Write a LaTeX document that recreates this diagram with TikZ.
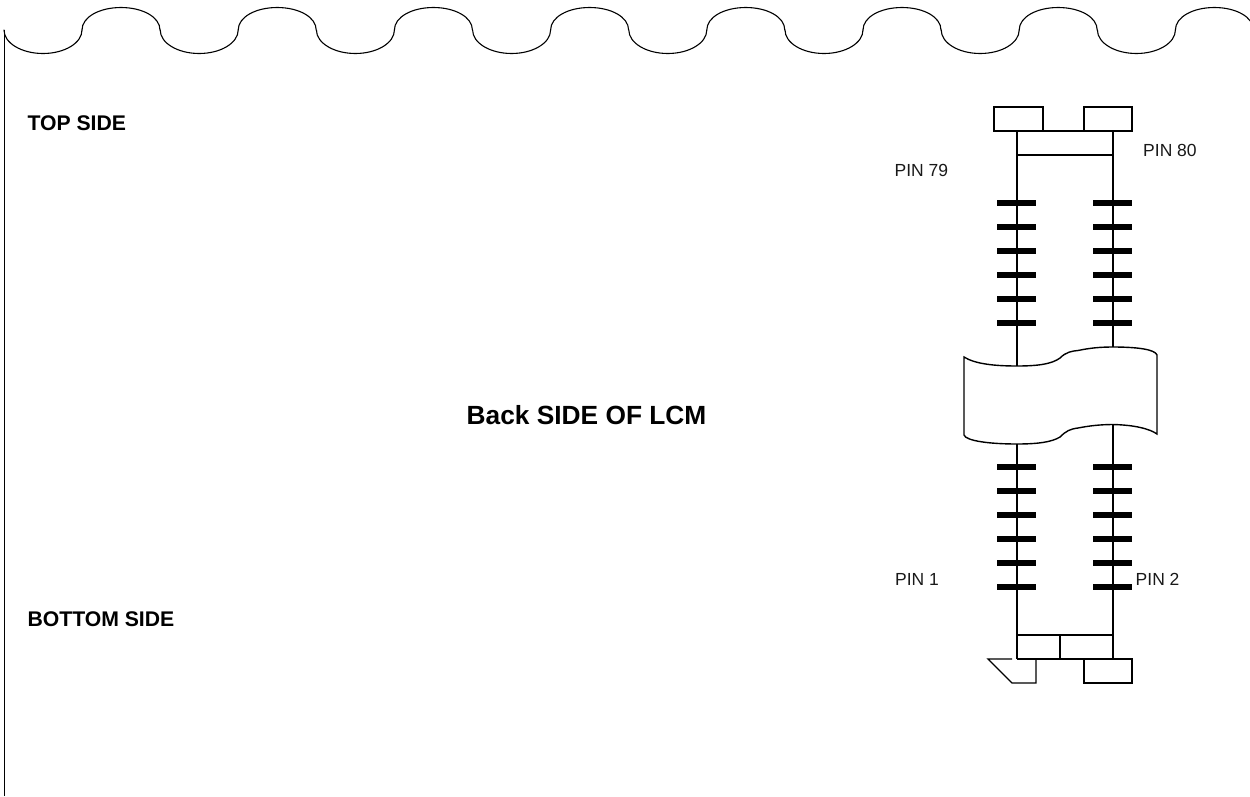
\documentclass[tikz,border=0pt]{standalone}
\usepackage{fontspec}
\setmainfont{Liberation Sans}
\tikzset{
  line/.style={draw=black,line width=1.4pt,line join=miter},
  thin line/.style={draw=black,line width=1.1pt},
  pad/.style={draw=black,line width=5.2pt},
  lbl/.style={anchor=base west,inner sep=0pt,font=\fontsize{17.5}{19}\selectfont,text=black!90},
  head/.style={anchor=base west,inner sep=0pt,font=\fontsize{21.2}{23}\selectfont\bfseries},
  title/.style={anchor=base west,inner sep=0pt,font=\fontsize{26.3}{29}\selectfont\bfseries}
}
\begin{document}
\begin{tikzpicture}[x=1pt,y=-1pt]
\useasboundingbox (0,0) rectangle (1250,796);
% left edge
\draw[thin line] (4.5,30) -- (4.5,796);
% wavy top edge
\foreach \s in {4,160.2,316.4,472.6,628.8,785,941.2,1097.4}{
  \draw[thin line,line cap=round] (\s,30) .. controls (\s,43) and (\s+17.5,53.5) .. (\s+39,53.5)
     .. controls (\s+60.5,53.5) and (\s+78,43) .. (\s+78,30);
  \draw[thin line,line cap=round] (\s+78,30) .. controls (\s+78,17) and (\s+95.5,7.5) .. (\s+117,7.5)
     .. controls (\s+138.5,7.5) and (\s+156,17) .. (\s+156,30);
}
% top connector
\draw[line] (994,107) rectangle (1043,131);
\draw[line] (1084,107) rectangle (1132,131);
\draw[line] (1043,131) -- (1084,131);
\draw[thin line] (1017,155) -- (1113,155);
\draw[line] (1017,131) -- (1017,366);
\draw[line] (1113,131) -- (1113,347);
% pads
\foreach \y in {203,227,251,275,299,323,467,491,515,539,563,587}{
  \draw[pad] (997,\y) -- (1036,\y);
  \draw[pad] (1093,\y) -- (1132,\y);
}
% banner
\draw[line,fill=white] (964,357)
  .. controls (975,364) and (995,366) .. (1017,366)
  .. controls (1038,366) and (1052,364) .. (1060,358)
  .. controls (1066,352) and (1072,351) .. (1078,350.5)
  .. controls (1090,348) and (1100,347) .. (1113,347)
  .. controls (1135,347) and (1155,349) .. (1157,355)
  -- (1157,434)
  .. controls (1150,429) and (1135,425) .. (1113,424.5)
  .. controls (1100,424.5) and (1088,426) .. (1078,428)
  .. controls (1070,429) and (1066,431) .. (1060,437)
  .. controls (1052,442) and (1038,444) .. (1017,444)
  .. controls (990,444) and (966,441) .. (964,435)
  -- cycle;
% lower stems
\draw[line] (1017,444) -- (1017,659);
\draw[line] (1113,424.5) -- (1113,659);
% bottom connector
\draw[line] (1017,635) -- (1113,635);
\draw[line] (1060,635) -- (1060,659);
\draw[line] (1017,659) -- (1084,659);
\draw[line] (1084,659) rectangle (1132,683);
\draw[line] (1012,659) -- (988,659) -- (1012,683) -- (1036,683) -- (1036,659);
% labels
\node[head] (top) at (27.3,130) {TOP SIDE};
\node[head] (bottom) at (27.3,626.5) {BOTTOM SIDE};
\node[title] (back) at (466.5,424.5) {Back SIDE OF LCM};
\node[lbl] (p79) at (894.5,176.5) {PIN 79};
\node[lbl] (p80) at (1143,156.5) {PIN 80};
\node[lbl] (p1) at (895,585.5) {PIN 1};
\node[lbl] (p2) at (1135.5,585.5) {PIN 2};
\end{tikzpicture}
\end{document}
